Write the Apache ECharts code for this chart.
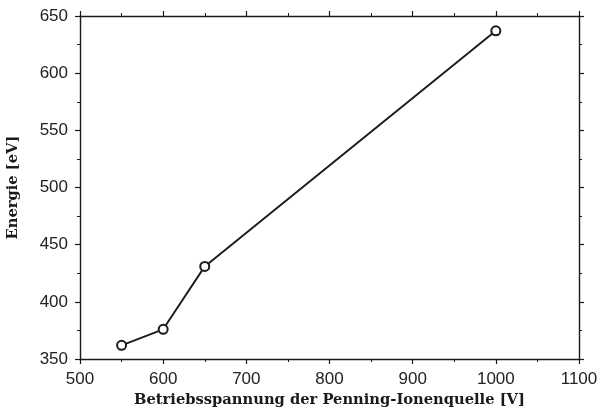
<!DOCTYPE html>
<html><head><meta charset="utf-8">
<script src="https://cdn.jsdelivr.net/npm/echarts@6/dist/echarts.min.js"></script>
<style>html,body{margin:0;padding:0;background:#fff}#c{width:600px;height:410px}</style>
</head><body><div id="c"></div>
<script>
var voltage = [550, 600, 650, 1000];
var energy = [362, 376, 431, 637];
var xTitle = 'Betriebsspannung der Penning-Ionenquelle [V]';
var yTitle = 'Energie [eV]';

var chart = echarts.init(document.getElementById('c'), null, {renderer: 'canvas'});
var axisLine = {show: true, onZero: false, lineStyle: {color: '#1a1a1a', width: 1.4}};
var tick = {show: true, inside: false, length: 5, lineStyle: {color: '#1a1a1a', width: 1.2}};
var minor = {show: true, splitNumber: 2, length: 3, lineStyle: {color: '#1a1a1a', width: 1}};
var lbl = {fontFamily: 'Liberation Sans, Arial, sans-serif', fontSize: 17, color: '#222',
  formatter: function (v) { return String(v); }};
var nameStyle = {fontFamily: 'DejaVu Serif, serif', fontWeight: 'bold', fontSize: 14.7, color: '#1a1a1a'};
chart.setOption({
  animation: false,
  backgroundColor: '#fff',
  grid: {left: 80, right: 21, top: 16, bottom: 51, outerBoundsMode: 'none', containLabel: false},
  xAxis: [{
    type: 'value', position: 'bottom', min: 500, max: 1100, interval: 100,
    axisLine: axisLine, axisTick: tick, minorTick: minor, splitLine: {show: false},
    axisLabel: Object.assign({margin: 12}, lbl),
    name: xTitle, nameLocation: 'middle', nameGap: 30,
    nameTextStyle: nameStyle
  }, {
    type: 'value', position: 'top', min: 500, max: 1100, interval: 100,
    axisLine: axisLine, axisTick: tick, minorTick: minor, splitLine: {show: false},
    axisLabel: {show: false}
  }],
  yAxis: [{
    type: 'value', position: 'left', min: 350, max: 650, interval: 50,
    axisLine: axisLine, axisTick: tick, minorTick: minor, splitLine: {show: false},
    axisLabel: Object.assign({margin: 12}, lbl),
    name: yTitle, nameLocation: 'middle', nameGap: 59, nameRotate: 90,
    nameTextStyle: nameStyle
  }, {
    type: 'value', position: 'right', min: 350, max: 650, interval: 50,
    axisLine: axisLine, axisTick: tick, minorTick: minor, splitLine: {show: false},
    axisLabel: {show: false}
  }],
  series: [{
    type: 'line',
    data: voltage.map(function (v, i) { return [v, energy[i]]; }),
    symbol: 'emptyCircle', symbolSize: 9,
    lineStyle: {color: '#1a1a1a', width: 1.9},
    itemStyle: {color: '#1a1a1a', borderWidth: 1.3}
  }]
});
</script></body></html>
